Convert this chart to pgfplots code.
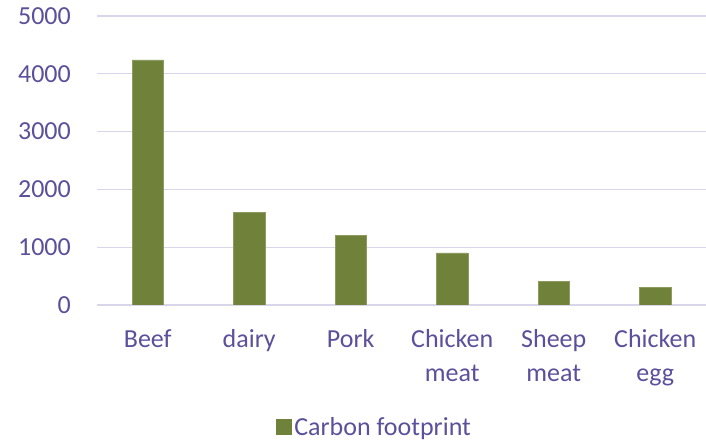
\documentclass[border=0pt]{standalone}
\usepackage{fontspec}
\setmainfont{Carlito}
\usepackage{pgfplots}
\pgfplotsset{compat=1.18}
\definecolor{txt}{RGB}{90,80,155}
\definecolor{barc}{RGB}{112,130,58}
\definecolor{gridc}{RGB}{217,214,234}
\begin{document}
\begin{tikzpicture}
\useasboundingbox (0,0) rectangle (706bp,441bp);
\begin{axis}[
  at={(97bp,136bp)}, anchor=south west,
  scale only axis, width=609bp, height=289bp,
  xmin=-0.5, xmax=5.5, ymin=0, ymax=5000,
  ytick={0,1000,2000,3000,4000,5000},
  xtick={0,1,2,3,4,5},
  xticklabels={\strut Beef,\strut dairy,\strut Pork,\strut Chicken\\meat,\strut Sheep\\meat,\strut Chicken\\egg},
  /pgf/number format/assume math mode=true,
  scaled y ticks=false,
  yticklabel={\pgfmathprintnumber[fixed,1000 sep={}]{\tick}},
  major tick length=0pt,
  axis line style={draw=none},
  ymajorgrids,
  grid style={gridc, line width=1.3bp},
  tick label style={font=\fontsize{26bp}{34bp}\selectfont, text=txt, inner sep=0pt},
  yticklabel style={anchor=east, xshift=-26bp},
  xticklabel style={align=center, anchor=north, yshift=-18bp},
  ybar, bar width=31.5bp, bar shift=0pt,
  legend style={draw=none, fill=none, at={(0.456,-0.422)}, anchor=center,
    font=\fontsize{26bp}{34bp}\selectfont, text=txt},
  legend image code/.code={\fill[barc] (0bp,-7.5bp) rectangle (15bp,7.5bp);},
]
\addplot[fill=barc, draw=barc!80!white, line width=0.8bp] coordinates {(0,4240) (1,1600) (2,1200) (3,900) (4,400) (5,300)};
\addlegendentry{Carbon footprint}
\end{axis}
\end{tikzpicture}
\end{document}
